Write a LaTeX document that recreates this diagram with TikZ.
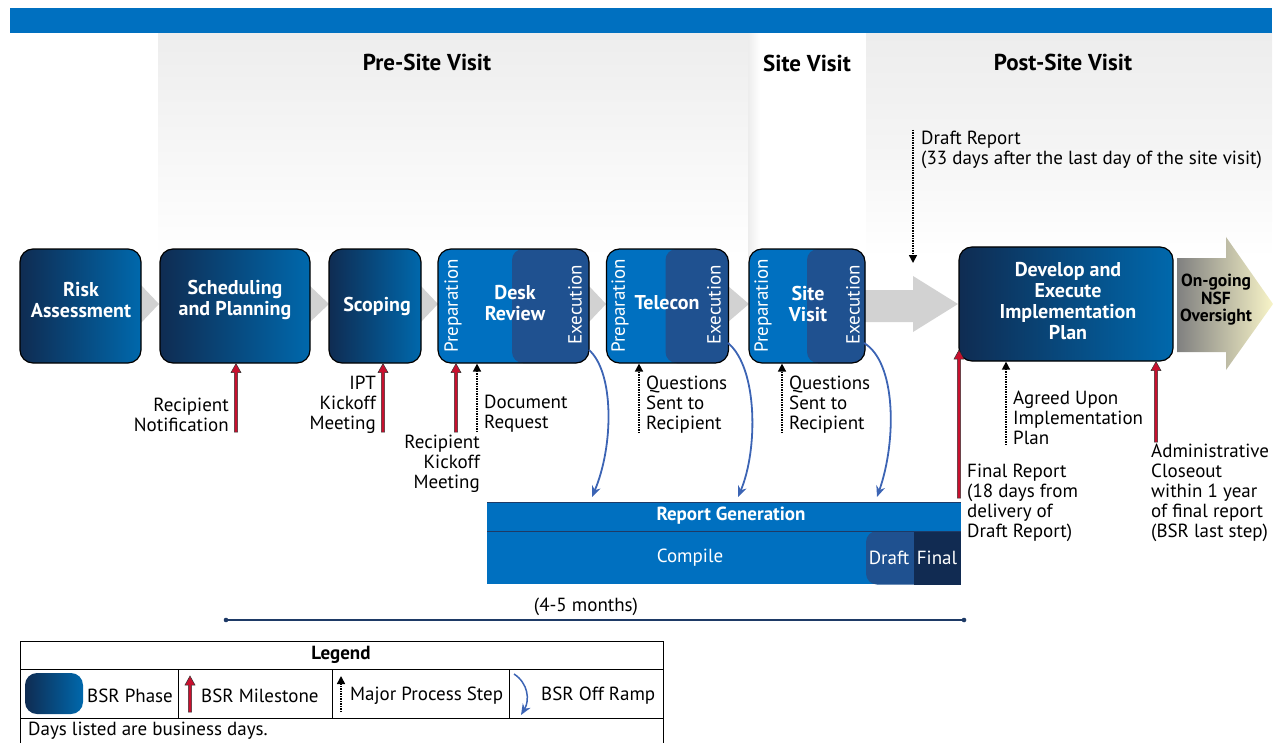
\documentclass[tikz,border=0pt]{standalone}
\usepackage{fontspec}
\setmainfont{PT Sans}
\usetikzlibrary{arrows.meta,calc,shapes.geometric}
\definecolor{barblue}{HTML}{0070C0}
\definecolor{prepblue}{HTML}{0070C0}
\definecolor{execblue}{HTML}{1F5190}
\definecolor{phaseL}{HTML}{0F2C52}
\definecolor{phaseR}{HTML}{0068AC}
\definecolor{finalnavy}{HTML}{112B52}
\definecolor{msred}{HTML}{C8102E}
\definecolor{offblue}{HTML}{3C64B4}
\definecolor{chev}{HTML}{D2D2D2}
\definecolor{bgtop}{HTML}{EDEDED}
\definecolor{ongL}{HTML}{808080}
\definecolor{ongR}{HTML}{F8F4C8}
\definecolor{linenavy}{HTML}{1E3A66}
\newcommand{\msarr}[2]{%
  \filldraw[fill=msred, draw=black!80, line width=0.5pt, line join=miter]
  ($(#2)+(-1.6,0)$) -- ($(#1)+(-1.6,9)$) -- ($(#1)+(-5,9)$) -- (#1) --
  ($(#1)+(5,9)$) -- ($(#1)+(1.6,9)$) -- ($(#2)+(1.6,0)$) -- cycle;}
\begin{document}
\begin{tikzpicture}[x=1pt,y=-1pt,
  phasebox/.style={draw=black, line width=1.2pt, rounded corners=13pt,
    left color=phaseL, right color=phaseR, minimum height=114pt, inner sep=0pt},
  splitbox/.style={draw=black, line width=1.2pt, rounded corners=13pt,
    fill=prepblue, minimum height=114pt, inner sep=0pt,
    path picture={\fill[execblue, rounded corners=11pt]
      ($(path picture bounding box.north west)+(#1,0)$) rectangle
      ($(path picture bounding box.south east)+(20,0)$);}},
  boxtext/.style={text=white, font=\bfseries\fontsize{20}{21}\selectfont, align=center, inner sep=0pt},
  rottext/.style={text=white, font=\fontsize{19}{20}\selectfont, rotate=90, inner sep=0pt},
  lbl/.style={font=\fontsize{19}{20}\selectfont, inner sep=0pt, text=black},
  head/.style={font=\bfseries\fontsize{23}{26}\selectfont, inner sep=0pt},
  proc/.style={densely dotted, line width=1.5pt, -{Triangle[width=8pt,length=8pt]}},
  offramp/.style={draw=offblue, line width=1.8pt, -{Stealth[length=11pt,width=9pt]}}
]
\useasboundingbox (0,0) rectangle (1281,743);
\clip (0,0) rectangle (1281,743);
% backgrounds
\shade[top color=bgtop, bottom color=white, middle color=bgtop!50!white] (158,33) rectangle (748,258);
\fill[white] (748,33) rectangle (866,258);
\shade[left color=bgtop, right color=white] (748,33) rectangle (760,258);
\shade[top color=bgtop, bottom color=white, middle color=bgtop!60!white] (866,33) rectangle (1272,258);
\fill[barblue] (10,8) rectangle (1272,33);
% headings
\node[head] (hpre) at (427,62) {Pre-Site Visit};
\node[head] (hsite) at (807,63) {Site Visit};
\node[head] (hpost) at (1063,62) {Post-Site Visit};
% chevrons
\fill[chev] (140,284) -- (159,304) -- (140,324) -- cycle;
\fill[chev] (309,285) -- (329,304) -- (309,323) -- cycle;
\fill[chev] (420,285) -- (438,304) -- (420,323) -- cycle;
\fill[chev] (589,286) -- (606,304) -- (589,322) -- cycle;
\fill[chev] (728,286) -- (749,304) -- (728,322) -- cycle;
\fill[chev] (864,290) -- (913,290) -- (913,276) -- (958,304) -- (913,332) -- (913,322) -- (864,322) -- cycle;
% ongoing arrow
\shade[left color=ongL, right color=ongR] (1177,258) -- (1226,258) -- (1226,237) -- (1273,304) -- (1226,370) -- (1226,352) -- (1177,352) -- cycle;
\node[font=\bfseries\fontsize{17.5}{17.5}\selectfont, align=center, inner sep=0pt] (ong) at (1216,300) {On-going\\NSF\\Oversight};
% phase boxes
\node[phasebox, minimum width=121pt] (risk) at (80.5,306) {};
\node[boxtext] (risktx) at (81,300) {Risk\\Assessment};
\node[phasebox, minimum width=150pt] (sched) at (235,306) {};
\node[boxtext] (schedtx) at (235,300) {Scheduling\\and Planning};
\node[phasebox, minimum width=92pt] (scop) at (375,306) {};
\node[boxtext] (scoptx) at (377,306) {Scoping};
\node[splitbox=74, minimum width=151pt] (desk) at (513.5,306) {};
\node[boxtext] (desktx) at (515,303) {Desk\\Review};
\node[rottext] (dprep) at (453,306) {Preparation};
\node[rottext] (dexec) at (575,305) {Execution};
\node[splitbox=59, minimum width=122pt] (tele) at (667.5,306) {};
\node[boxtext] (teletx) at (667,303) {Telecon};
\node[rottext] (tprep) at (620,306) {Preparation};
\node[rottext] (texec) at (714,305) {Execution};
\node[splitbox=58, minimum width=116pt] (sitev) at (807,306) {};
\node[boxtext] (sitetx) at (808,304) {Site\\Visit};
\node[rottext] (sprep) at (763,306) {Preparation};
\node[rottext] (sexec) at (853,305) {Execution};
\node[phasebox, minimum width=214pt] (dev) at (1066,304) {};
\node[boxtext] (devtx) at (1068,301) {Develop and\\Execute\\Implementation\\Plan};
% report generation
\node[fill=prepblue, minimum width=474pt, minimum height=82pt, inner sep=0pt] (report) at (724,543) {};
\fill[execblue, rounded corners=11pt] (866,531) rectangle (926,584.5);
\fill[finalnavy] (914,531) rectangle (961,584.5);
\draw[linenavy, line width=1pt] (487,531) -- (961,531);
\draw[linenavy, line width=0.8pt] (487,502.5) -- (961,502.5);
\node[font=\bfseries\fontsize{19}{20}\selectfont, text=white, inner sep=0pt] (rgtx) at (731,516) {Report Generation};
\node[lbl, text=white] (comp) at (690,558) {Compile};
\node[lbl, text=white] (draft) at (889,558) {Draft};
\node[lbl, text=white] (final) at (937,558) {Final};
% milestones
\coordinate (m1b) at (236,432); \coordinate (m1t) at (m1b |- sched.south);
\msarr{m1t}{m1b}
\node[lbl, align=right, anchor=east] (m1l) at (229,415) {Recipient\\Notification};
\coordinate (m2b) at (383,432); \coordinate (m2t) at (m2b |- scop.south);
\msarr{m2t}{m2b}
\node[lbl, align=right, anchor=east] (m2l) at (376,405) {IPT\\Kickoff\\Meeting};
\coordinate (m3b) at (456,432); \coordinate (m3t) at (m3b |- desk.south);
\msarr{m3t}{m3b}
\node[lbl, align=right, anchor=east] (m3l) at (480,464) {Recipient\\Kickoff\\Meeting};
\coordinate (m4b) at (959,498); \coordinate (m4t) at (959,350);
\msarr{m4t}{m4b}
\node[lbl, align=left, anchor=west] (m4l) at (967,503) {Final Report\\(18 days from\\delivery of\\Draft Report)};
\coordinate (m5b) at (1156,442); \coordinate (m5t) at (m5b |- dev.south);
\msarr{m5t}{m5b}
\node[lbl, align=left, anchor=west] (m5l) at (1151,493) {Administrative\\Closeout\\within 1 year\\of final report\\(BSR last step)};
% process steps
\coordinate (p1b) at (477,432); \coordinate (p1t) at (p1b |- desk.south);
\draw[proc] (p1b) -- (p1t);
\node[lbl, align=left, anchor=west] (p1l) at (484,414) {Document\\Request};
\coordinate (p2b) at (639,433); \coordinate (p2t) at (p2b |- tele.south);
\draw[proc] (p2b) -- (p2t);
\node[lbl, align=left, anchor=west] (p2l) at (646,405) {Questions\\Sent to\\Recipient};
\coordinate (p3b) at (782,433); \coordinate (p3t) at (p3b |- sitev.south);
\draw[proc] (p3b) -- (p3t);
\node[lbl, align=left, anchor=west] (p3l) at (789,405) {Questions\\Sent to\\Recipient};
\coordinate (p4b) at (913,130); \coordinate (p4t) at (913,263);
\draw[proc] (p4b) -- (p4t);
\node[lbl, align=left, anchor=west] (p4l) at (921,150) {Draft Report\\(33 days after the last day of the site visit)};
\coordinate (p5b) at (1006,445); \coordinate (p5t) at (p5b |- dev.south);
\draw[proc] (p5b) -- (p5t);
\node[lbl, align=left, anchor=west] (p5l) at (1013,418) {Agreed Upon\\Implementation\\Plan};
% off ramps
\coordinate (o1s) at (589,350); \coordinate (o1e) at (592,497);
\draw[offramp] (o1s) .. controls (614,372) and (614,445) .. (o1e);
\coordinate (o2s) at (728,343); \coordinate (o2e) at (738,497);
\draw[offramp] (o2s) .. controls (758,368) and (758,450) .. (o2e);
\coordinate (o3s) at (864,343); \coordinate (o3e) at (877,497);
\draw[offramp] (o3s) .. controls (896,362) and (897,440) .. (o3e);
% timeline
\coordinate (t1) at (226,620); \coordinate (t2) at (964,620);
\draw[linenavy, line width=1.3pt] (t1) -- (t2);
\fill[linenavy] (t1) circle (2.3); \fill[linenavy] (t2) circle (2.3);
\node[lbl] (tl) at (586,607) {(4-5 months)};
% legend
\draw[black, line width=1pt] (20,641) rectangle (663,760);
\draw[black, line width=1pt] (20,669) -- (663,669);
\draw[black, line width=1pt] (20,718) -- (663,718);
\draw[black, line width=1pt] (178,669) -- (178,718);
\draw[black, line width=1pt] (332,669) -- (332,718);
\draw[black, line width=1pt] (509,669) -- (509,718);
\node[font=\bfseries\fontsize{19}{20}\selectfont, inner sep=0pt] (legt) at (341,655) {Legend};
\shade[left color=phaseL, right color=phaseR, rounded corners=12pt] (25,673) rectangle (83,714);
\node[lbl, anchor=west] (lg1) at (87,696) {BSR Phase};
\coordinate (lmb) at (190,712); \coordinate (lmt) at (190,676);
\msarr{lmt}{lmb}
\node[lbl, anchor=west] (lg2) at (201,696) {BSR Milestone};
\coordinate (lpb) at (341,712); \coordinate (lpt) at (341,676);
\draw[proc] (lpb) -- (lpt);
\node[lbl, anchor=west] (lg3) at (350,696) {Major Process Step};
\coordinate (lob) at (514,674); \coordinate (lot) at (521,715);
\draw[offramp, line width=1.5pt] (lob) .. controls (528,683) and (530,700) .. (lot);
\node[lbl, anchor=west] (lg4) at (541,696) {BSR Off Ramp};
\node[lbl, anchor=west] (lg5) at (28,731) {Days listed are business days.};
\end{tikzpicture}
\end{document}
